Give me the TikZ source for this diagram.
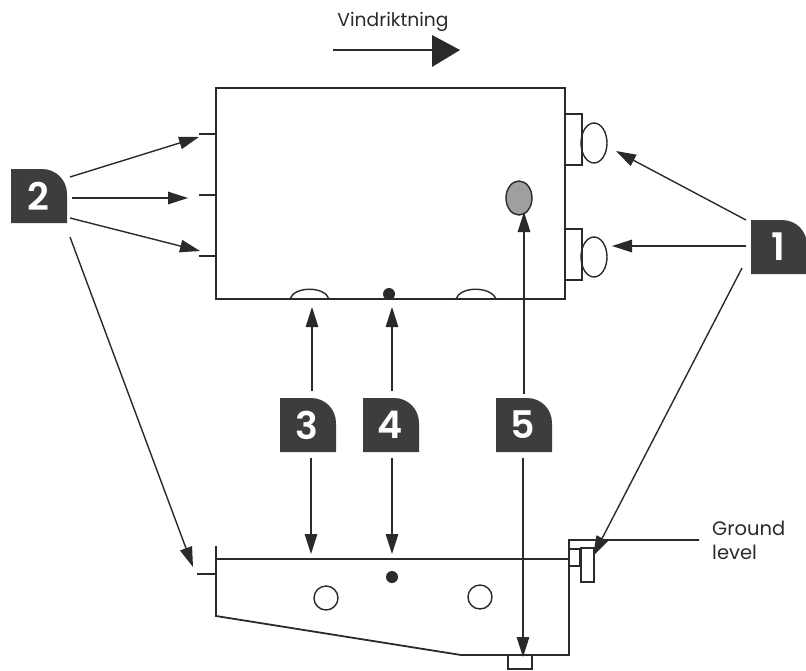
\documentclass[tikz,border=0pt]{standalone}
\usepackage{fontspec}
\setmainfont{Poppins}
\newfontfamily\numfont{Poppins SemiBold}
\usetikzlibrary{arrows.meta}
\definecolor{ink}{HTML}{2B2A2B}
\definecolor{badgefill}{HTML}{3D3D3D}
\tikzset{
  part/.style={draw=ink,line width=1.8pt,line join=miter},
  thin part/.style={draw=ink,line width=1.4pt},
  callout/.style={draw=ink,line width=1.4pt,-{Triangle[length=20pt,width=12.5pt]}},
  plainline/.style={draw=ink,line width=1.4pt},
  badgenum/.style={text=white,font=\fontsize{38}{38}\selectfont\numfont,inner sep=0pt},
  caption/.style={text=ink,font=\fontsize{18.7}{24}\selectfont,inner sep=0pt,align=left},
}
\newcommand{\badgeshape}[3]{%
  \fill[badgefill] (#1,#2) -- (#1,#2-54) -- (#1+31,#2-54) .. controls (#1+45,#2-54) and (#1+56,#2-43) .. (#1+56,#2-29) -- (#1+56,#2) -- cycle;
  \node[badgenum] (#3) at (#1+27,#2-27) {#3};
}
\begin{document}
\begin{tikzpicture}[x=1pt,y=-1pt]
\useasboundingbox (0,0) rectangle (806,670);
% upper body
\draw[part] (216,88) rectangle (565,299);
\foreach \yy in {134,195,256} \draw[part] (199,\yy) -- (216,\yy);
\draw[thin part] (565,114) rectangle (582,165);
\draw[thin part] (565,229) rectangle (582,280);
\draw[thin part] (594,143) ellipse[x radius=13,y radius=20];
\draw[thin part] (594,257) ellipse[x radius=13,y radius=20];
\draw[thin part] (290,299) .. controls (294,286) and (325,286) .. (329,299);
\draw[thin part] (456,299) .. controls (460,286) and (491,286) .. (496,299);
\fill[ink] (389,294) circle[radius=6];
\draw[thin part,fill=gray!75] (519,198) ellipse[x radius=13,y radius=17];
% lower body
\draw[part] (216,546) -- (216,616) -- (461,655) -- (569,655) -- (569,540) -- (699,540);
\draw[part] (216,559) -- (569,559);
\draw[part] (197,574) -- (216,574);
\draw[thin part] (569,549) rectangle (580,566);
\draw[thin part] (581,548) rectangle (594,582);
\draw[thin part] (508,655) rectangle (532,669);
\draw[thin part] (326,598) circle[radius=12];
\draw[thin part] (480,597) circle[radius=12];
\fill[ink] (392,577) circle[radius=6];
% badges
\badgeshape{11}{223}{2}
\badgeshape{751}{274}{1}
\badgeshape{280}{452}{3}
\badgeshape{363}{452}{4}
\badgeshape{496}{452}{5}
% free ends
\coordinate (a1) at (746,220); \coordinate (a1t) at (616,151);
\coordinate (b1) at (746,246); \coordinate (b1t) at (612,246);
\coordinate (c1) at (742,268); \coordinate (c1t) at (593,556);
\coordinate (a2) at (70,177);  \coordinate (a2t) at (199,137);
\coordinate (b2) at (72,198);  \coordinate (b2t) at (188,198);
\coordinate (c2) at (70,218);  \coordinate (c2t) at (200,251);
\coordinate (d2) at (70,237);  \coordinate (d2t) at (193,567);
\coordinate (a3) at (312,391); \coordinate (a3t) at (312,307);
\coordinate (b3) at (311,458); \coordinate (b3t) at (311,554);
\coordinate (a4) at (392,391); \coordinate (a4t) at (392,307);
\coordinate (b4) at (392,458); \coordinate (b4t) at (392,554);
\coordinate (a5) at (524,394); \coordinate (a5t) at (524,212);
\coordinate (b5) at (523,458); \coordinate (b5t) at (523,657);
\coordinate (w0) at (333,50);  \coordinate (w1) at (432,50);
% connectors
\foreach \s/\t in {a1/a1t,b1/b1t,c1/c1t,a2/a2t,b2/b2t,c2/c2t,d2/d2t,a3/a3t,b3/b3t,a4/a4t,b4/b4t,a5/a5t,b5/b5t}
  \draw[callout] (\s) -- (\t);
\draw[plainline] (w0) -- (w1);
\fill[ink] (432,35) -- (460,50) -- (432,67) -- cycle;
% text
\node[caption,anchor=base] (wind) at (393,26) {Vindriktning};
\node[caption,anchor=north west,font=\fontsize{19.5}{24}\selectfont] (ground) at (712,521) {Ground\\level};
\end{tikzpicture}
\end{document}
